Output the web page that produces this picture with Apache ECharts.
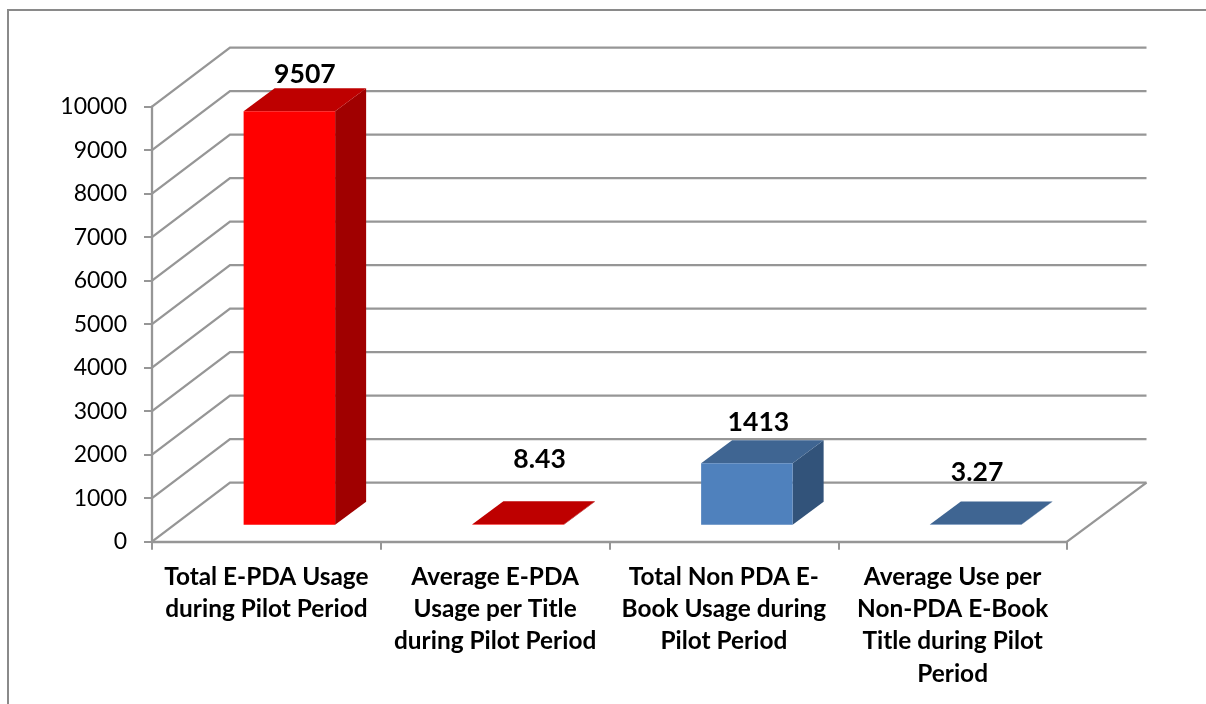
<!DOCTYPE html>
<html>
<head>
<meta charset="utf-8">
<style>html,body{margin:0;padding:0;background:#fff;}#c{width:1206px;height:704px;}</style>
<script src="https://cdn.jsdelivr.net/npm/echarts@6/dist/echarts.min.js"></script>
</head>
<body>
<div id="c"></div>
<script>
var categories = [
  'Total E-PDA Usage\nduring Pilot Period',
  'Average E-PDA\nUsage per Title\nduring Pilot Period',
  'Total Non PDA E-\nBook Usage during\nPilot Period',
  'Average Use per\nNon-PDA E-Book\nTitle during Pilot\nPeriod'
];
var values = [9507, 8.43, 1413, 3.27];
var valueLabels = ['9507', '8.43', '1413', '3.27'];
var yTicks = [0, 1000, 2000, 3000, 4000, 5000, 6000, 7000, 8000, 9000, 10000];

// Look of the pseudo-3D box (not data)
var faceColors = [
  {front: '#ff0000', top: '#be0000', side: '#a00000'},
  {front: '#ff0000', top: '#be0000', side: '#a00000'},
  {front: '#4f81bd', top: '#3f6592', side: '#32537a'},
  {front: '#4f81bd', top: '#3f6592', side: '#32537a'}
];
var labelShift = [[0, 14], [6, 42], [-4, 18], [-14, 29]];
var WALL = [78, -59], FLOOR = [23, -17], DEPTH = [31, -23];
var GRID_COLOR = '#969696', FONT = 'Lato', LINE_W = 2.3;

var chart = echarts.init(document.getElementById('c'));
chart.setOption({
  animation: false,
  backgroundColor: '#fff',
  graphic: [{
    type: 'rect', silent: true, z: -1,
    shape: {x: 8, y: 10, width: 1240, height: 740},
    style: {fill: 'none', stroke: '#8a8a8a', lineWidth: 2}
  }],
  grid: {left: 152, right: 139, top: 106.7, bottom: 162.3},
  xAxis: {
    type: 'category', data: categories,
    axisLine: {lineStyle: {color: GRID_COLOR, width: LINE_W}},
    axisTick: {show: true, length: 8, lineStyle: {color: GRID_COLOR, width: 2}},
    axisLabel: {interval: 0, color: '#000', fontFamily: FONT, fontWeight: 'bold', fontSize: 24.4, lineHeight: 32.3, margin: 19, align: 'center'}
  },
  yAxis: {
    type: 'value', min: 0, max: 10000, interval: 1000,
    axisLine: {show: true, lineStyle: {color: GRID_COLOR, width: LINE_W}},
    axisTick: {show: true, length: 8, lineStyle: {color: GRID_COLOR, width: 2}},
    splitLine: {show: false},
    axisLabel: {color: '#000', fontFamily: FONT, fontSize: 23, margin: 25, padding: [5, 0, 0, 0], formatter: function (v) { return String(v); }}
  },
  series: [
    {
      type: 'custom', z: 1, silent: true,
      data: yTicks.map(function (t) { return [categories[0], t]; }),
      encode: {x: 0, y: 1},
      renderItem: function (params, api) {
        var cs = params.coordSys;
        var y = api.coord([api.value(0), api.value(1)])[1];
        var style = {fill: 'none', stroke: GRID_COLOR, lineWidth: LINE_W};
        var x0 = cs.x, x1 = cs.x + cs.width;
        var children = [{
          type: 'polyline',
          shape: {points: [[x0, y], [x0 + WALL[0], y + WALL[1]], [x1 + WALL[0] + 1.5, y + WALL[1]]]},
          style: style
        }];
        if (api.value(1) === 0) {
          children.push({
            type: 'line',
            shape: {x1: x1, y1: y, x2: x1 + WALL[0] + 1.5, y2: y + WALL[1]},
            style: style
          });
        }
        return {type: 'group', children: children};
      }
    },
    {
      type: 'custom', z: 3, silent: true,
      data: values.map(function (v, i) { return [categories[i], v]; }),
      encode: {x: 0, y: 1},
      renderItem: function (params, api) {
        var i = params.dataIndex;
        var c = faceColors[i];
        var top = api.coord([api.value(0), api.value(1)]);
        var base = api.coord([api.value(0), 0]);
        var w = api.size([1, 0])[0] * 0.4;
        var l = top[0] - w / 2 + FLOOR[0], r = l + w;
        var yb = base[1] + FLOOR[1], yt = top[1] + FLOOR[1];
        var dx = DEPTH[0], dy = DEPTH[1];
        var labelX = (l + r) / 2 + dx / 2 + labelShift[i][0];
        var labelY = yt + dy - labelShift[i][1];
        return {
          type: 'group',
          children: [
            {type: 'polygon', shape: {points: [[r, yb], [r + dx, yb + dy], [r + dx, yt + dy], [r, yt]]}, style: {fill: c.side}},
            {type: 'polygon', shape: {points: [[l, yt], [l + dx, yt + dy], [r + dx, yt + dy], [r, yt]]}, style: {fill: c.top}},
            {type: 'rect', shape: {x: l, y: yt, width: w, height: yb - yt}, style: {fill: c.front}},
            {type: 'text', style: {
              x: labelX, y: labelY, text: valueLabels[i], fill: '#000',
              font: 'bold 26.6px ' + FONT, textAlign: 'center', textVerticalAlign: 'middle'
            }}
          ]
        };
      }
    }
  ]
});
</script>
</body>
</html>
